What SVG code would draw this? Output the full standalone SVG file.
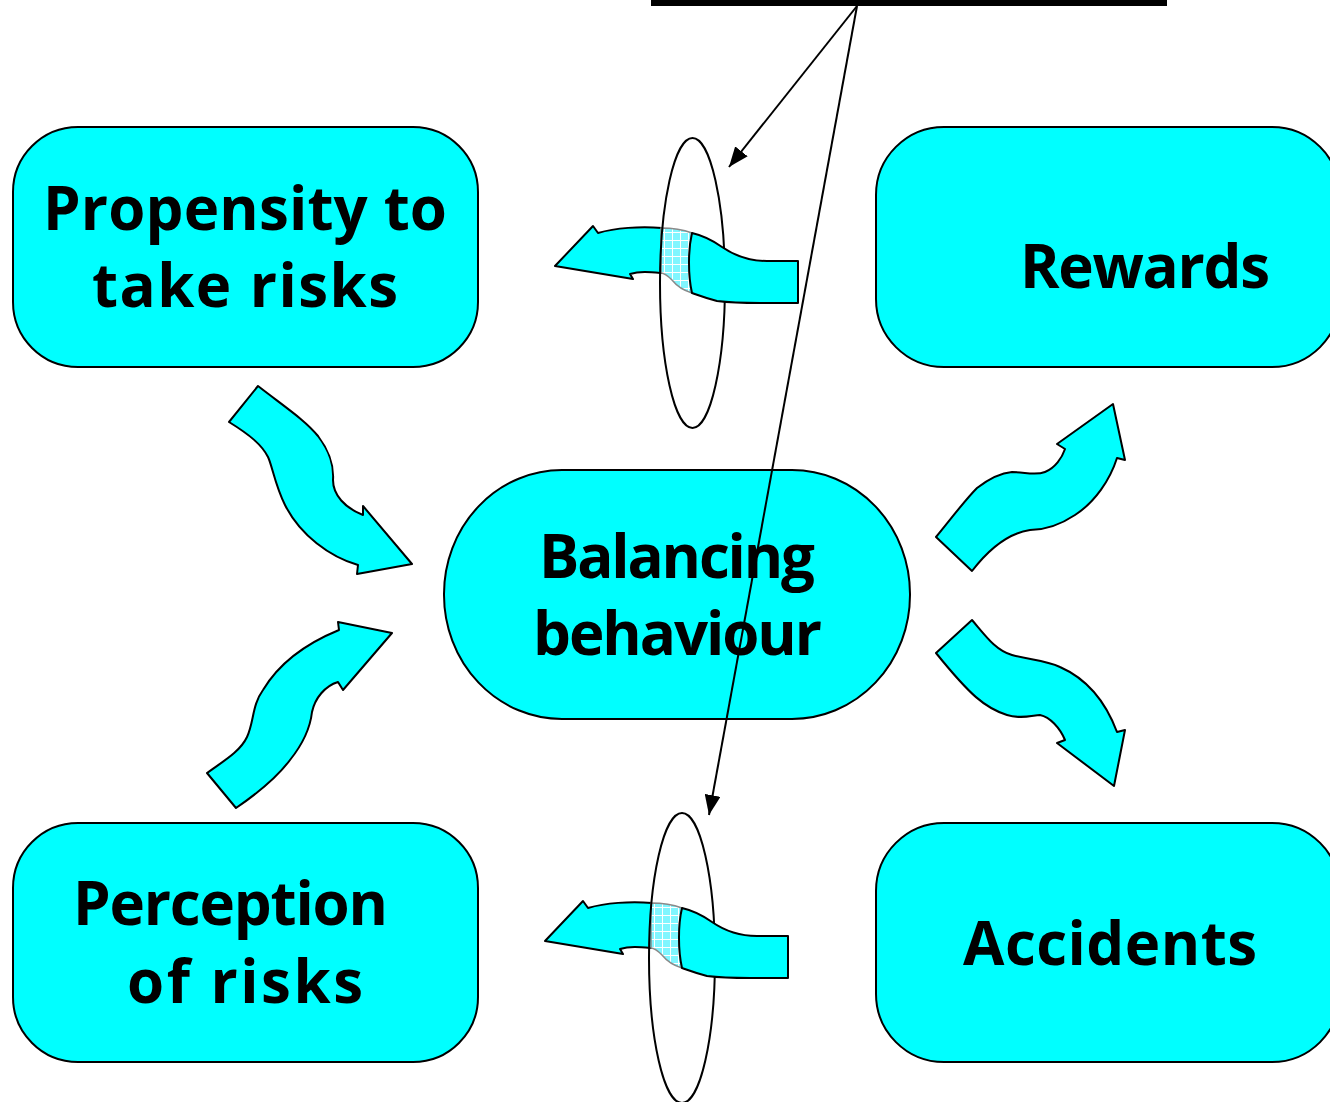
<svg xmlns="http://www.w3.org/2000/svg" width="1330" height="1102" viewBox="0 0 1330 1102">
<style>
.box{fill:#00ffff;stroke:#000;stroke-width:2}
.lbl{font-family:"Open Sans","DejaVu Sans",sans-serif;font-weight:bold;font-size:60px;fill:#000}
.flow{fill:#00ffff;stroke:#000;stroke-width:2;stroke-linejoin:round}
.hatch{fill:url(#grid);stroke:#8a8a8a;stroke-width:1.5}
.ring{fill:none;stroke:#000;stroke-width:2}
.ptr{fill:none;stroke:#000;stroke-width:2;marker-end:url(#head)}
</style>
<defs>
<pattern id="grid" width="8" height="8" patternUnits="userSpaceOnUse">
<rect width="8" height="8" fill="#80f6ff"/>
<path d="M0,0.5H8M0.5,0V8" stroke="#ffffff" stroke-width="1"/>
</pattern>
<marker id="head" markerUnits="userSpaceOnUse" markerWidth="22" markerHeight="16" refX="20" refY="8" orient="auto">
<path d="M0,0L20,8L0,16Z" fill="#000"/>
</marker>
<g id="filterArrow">
<path class="flow" d="M662,228 C640,226 615,228 598,233 L593,226 L555,266 L633,279 L630,274 C640,271 650,272 662,273"/>
<path class="hatch" d="M661,228 C672,228 684,230 692,233 C688,250 688,275 692,293 C682,290 676,285 672,280 C667,275 664,273 661,273 Z"/>
</g>
<path id="filterFront" class="flow" d="M692,233 C705,236 715,242 722,247 C735,256 750,261 767,261 L798,261 L798,303 L760,303 C740,303 725,302 717,301 C705,298 698,295 692,293 C688,275 688,250 692,233 Z"/>
</defs>

<rect x="651" y="0" width="516" height="6" fill="#000"/>

<g id="propensity">
<rect class="box" x="13" y="127" width="465" height="240" rx="65" ry="65"/>
<text class="lbl" x="43" y="230" textLength="404">Propensity to</text>
<text class="lbl" x="92" y="307" textLength="306">take risks</text>
</g>

<g id="rewards">
<rect class="box" x="876" y="127" width="464" height="240" rx="68" ry="68"/>
<text class="lbl" x="1020" y="288" textLength="250">Rewards</text>
</g>

<g id="balancing">
<rect class="box" x="444" y="470" width="466" height="249" rx="118" ry="124"/>
<text class="lbl" x="539" y="578" textLength="276">Balancing</text>
<text class="lbl" x="533" y="655" textLength="289">behaviour</text>
</g>

<g id="perception">
<rect class="box" x="13" y="823" width="465" height="239" rx="65" ry="65"/>
<text class="lbl" x="73" y="925" textLength="315">Perception</text>
<text class="lbl" x="127" y="1003" textLength="236">of risks</text>
</g>

<g id="accidents">
<rect class="box" x="876" y="823" width="464" height="239" rx="68" ry="68"/>
<text class="lbl" x="963" y="965" textLength="294">Accidents</text>
</g>

<g id="connectors">
<path class="flow" d="M258,386 C285,407 305,420 318,436 C330,452 334,465 333,480 C333,495 345,508 363,515 L363,506 L412,564 L357,574 L358,565 C330,557 300,535 285,505 C275,485 272,465 268,457 C262,445 250,435 229,422 Z"/>
<path class="flow" d="M207,773 C222,762 240,752 247,737 C254,722 252,705 263,690 C275,670 295,648 339,630 L338,622 L392,633 L343,690 L338,682 C325,686 315,698 312,712 C310,730 302,745 290,760 C275,780 255,795 236,808 Z"/>
<path class="flow" d="M936,537 C950,520 965,500 977,488 C990,478 1000,473 1012,472 C1025,472 1035,476 1045,472 C1055,468 1062,458 1065,449 L1057,444 L1113,404 L1125,460 L1117,458 C1110,480 1095,502 1075,515 C1060,525 1045,530 1030,530 C1010,533 992,545 972,571 Z"/>
<path class="flow" d="M972,620 C985,635 995,650 1012,655 C1030,660 1045,660 1060,667 C1085,678 1105,700 1117,732 L1125,730 L1114,786 L1057,743 L1065,740 C1060,728 1050,717 1040,715 C1030,716 1020,719 1007,715 C985,708 970,695 936,653 Z"/>

<use href="#filterArrow"/>
<ellipse class="ring" cx="692.5" cy="283" rx="32.5" ry="145"/>
<use href="#filterFront"/>

<g transform="translate(-10,675)">
<use href="#filterArrow"/>
</g>
<ellipse class="ring" cx="682" cy="958" rx="33" ry="145"/>
<use href="#filterFront" transform="translate(-10,675)"/>

<line class="ptr" x1="857" y1="6" x2="729" y2="167"/>
<line class="ptr" x1="857" y1="6" x2="709" y2="815"/>
</g>
</svg>
